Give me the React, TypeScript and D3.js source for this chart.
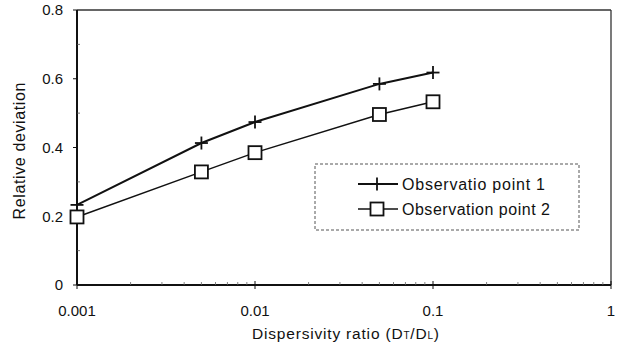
import React from "react";
import * as d3 from "d3";

const ratios = [0.001, 0.005, 0.01, 0.05, 0.1];
const point1 = [0.233, 0.413, 0.474, 0.585, 0.618];
const point2 = [0.198, 0.329, 0.385, 0.496, 0.533];
const xTicks = [0.001, 0.01, 0.1, 1];
const xTickLabels = ["0.001", "0.01", "0.1", "1"];
const yTicks = [0, 0.2, 0.4, 0.6, 0.8];
const yTickLabels = ["0", "0.2", "0.4", "0.6", "0.8"];
const seriesNames = ["Observatio point 1", "Observation point 2"];

const W = 622, H = 347;
const L = 77, R = 611, T = 10, B = 285;
const FONT = "'Liberation Sans', Arial, sans-serif";

export default function App() {
  const x = d3.scaleLog().domain([0.001, 1]).range([L, R]);
  const y = d3.scaleLinear().domain([0, 0.8]).range([B, T]);
  const line = d3.line<number>().x((_, i) => x(ratios[i])).y((d) => y(d));

  const minorX: number[] = [];
  [0.001, 0.01, 0.1].forEach((dec) => {
    for (let k = 2; k <= 9; k++) minorX.push(dec * k);
  });
  const minorY = [0.1, 0.3, 0.5, 0.7];

  const plus = (cx: number, cy: number, key: string) => (
    <g key={key} stroke="#111" strokeWidth={1.8}>
      <line x1={cx - 6.5} x2={cx + 6.5} y1={cy} y2={cy} />
      <line x1={cx} x2={cx} y1={cy - 6.5} y2={cy + 6.5} />
    </g>
  );
  const square = (cx: number, cy: number, key: string) => (
    <rect key={key} x={cx - 6.5} y={cy - 6.5} width={13} height={13} fill="white" stroke="#111" strokeWidth={1.8} />
  );

  return (
    <svg width={W} height={H} style={{ position: "absolute", left: 0, top: 0, display: "block" }} fontFamily={FONT}>
      <rect width={W} height={H} fill="white" />
      {/* frame */}
      <line x1={L} x2={R} y1={T} y2={T} stroke="#333" strokeWidth={1.3} />
      <line x1={R} x2={R} y1={T} y2={B} stroke="#333" strokeWidth={1.3} />
      <line x1={L} x2={R} y1={B} y2={B} stroke="#111" strokeWidth={1.8} />
      <line x1={L} x2={L} y1={T} y2={B} stroke="#111" strokeWidth={2} />
      {/* y ticks */}
      {yTicks.map((v, i) => (
        <g key={"yt" + i}>
          <line x1={L - 4} x2={L} y1={y(v)} y2={y(v)} stroke="#111" strokeWidth={1} />
          <text x={63} y={y(v)} dy="0.36em" textAnchor="end" fontSize={15} fill="#111">{yTickLabels[i]}</text>
        </g>
      ))}
      {minorY.map((v, i) => (
        <line key={"ym" + i} x1={L} x2={L + 3} y1={y(v)} y2={y(v)} stroke="#555" strokeWidth={0.8} />
      ))}
      {/* x ticks */}
      {xTicks.map((v, i) => (
        <g key={"xt" + i}>
          <line x1={x(v)} x2={x(v)} y1={B - 4} y2={B + 4} stroke="#111" strokeWidth={1} />
          <text x={x(v)} y={316} textAnchor={i === xTicks.length - 1 ? "end" : "middle"} dx={i === xTicks.length - 1 ? 4 : 0} fontSize={15} fill="#111">{xTickLabels[i]}</text>
        </g>
      ))}
      {minorX.map((v, i) => (
        <line key={"xm" + i} x1={x(v)} x2={x(v)} y1={B - 3} y2={B} stroke="#666" strokeWidth={0.8} />
      ))}
      {/* series */}
      <path d={line(point1) || ""} fill="none" stroke="#111" strokeWidth={2} />
      <path d={line(point2) || ""} fill="none" stroke="#111" strokeWidth={1.5} />
      {point1.map((v, i) => plus(x(ratios[i]), y(v), "p1" + i))}
      {point2.map((v, i) => square(x(ratios[i]), y(v), "p2" + i))}
      {/* legend */}
      <rect x={315} y={164} width={264} height={66} fill="white" stroke="#555" strokeWidth={1} strokeDasharray="3,2" />
      <line x1={358} x2={398} y1={184} y2={184} stroke="#111" strokeWidth={2} />
      {plus(377, 184, "lg1")}
      <text x={402} y={184} dy="0.36em" fontSize={16} textLength={143} lengthAdjust="spacing" fill="#111">{seriesNames[0]}</text>
      <line x1={358} x2={398} y1={209} y2={209} stroke="#111" strokeWidth={1.5} />
      {square(377, 209, "lg2")}
      <text x={402} y={209} dy="0.36em" fontSize={16} textLength={148} lengthAdjust="spacing" fill="#111">{seriesNames[1]}</text>
      {/* axis titles */}
      <text transform="translate(19,151) rotate(-90)" textAnchor="middle" dy="0.36em" fontSize={16} textLength={137} lengthAdjust="spacing" fill="#111">Relative deviation</text>
      <text x={252} y={339} fontSize={15.5} fill="#111" textLength={187} lengthAdjust="spacing">
        Dispersivity ratio (D<tspan fontSize={10}>T</tspan>/D<tspan fontSize={10}>L</tspan>)
      </text>
    </svg>
  );
}
